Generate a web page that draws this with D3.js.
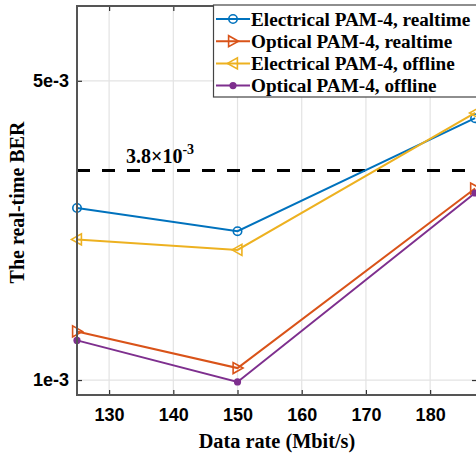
<!DOCTYPE html>
<html lang="en">
<head>
    <meta charset="utf-8">
    <title>Real-time BER vs data rate</title>
    <script src="https://d3js.org/d3.v7.min.js"></script>
    <style>
        body { margin: 0; background: #fff; }
        .tick-label { font-family: "Liberation Sans", Arial, sans-serif; font-weight: bold; font-size: 18px; fill: #000; }
        .serif { font-family: "Liberation Serif", "Times New Roman", serif; font-weight: bold; fill: #000; }
    </style>
</head>
<body>
    <svg id="chart" width="476" height="458"></svg>
    <script>
        // data
        const rates = [125, 150, 187];
        const elecRealtime = [3.30e-3, 2.99e-3, 4.50e-3];
        const optRealtime = [1.65e-3, 1.16e-3, 3.56e-3];
        const elecOffline = [2.88e-3, 2.74e-3, 4.57e-3];
        const optOffline = [1.53e-3, 0.975e-3, 3.50e-3];
        const seriesNames = ['Electrical PAM-4, realtime', 'Optical PAM-4, realtime',
            'Electrical PAM-4, offline', 'Optical PAM-4, offline'];
        const xTicks = [130, 140, 150, 160, 170, 180];
        const yTicks = [1e-3, 5e-3];
        const yTickLabels = ['1e-3', '5e-3'];
        const threshold = 3.8e-3;

        const colors = ['#0072BD', '#D95319', '#EDB120', '#7E2F8E'];
        const markers = ['circle', 'tri-right', 'tri-left', 'dot'];
        const allSeries = [elecRealtime, optRealtime, elecOffline, optOffline];

        const pLeft = 77, pTop = 6, pRight = 477, pBottom = 395;
        const svg = d3.select('#chart');

        let scaleX = d3.scaleLinear().domain([125, 187.3]).range([pLeft, pRight]);
        let scaleY = d3.scaleLinear().domain([0.8e-3, 6e-3]).range([pBottom, pTop]);

        // grid
        svg.append('g').selectAll('line').data(xTicks).enter().append('line')
            .attr('x1', d => scaleX(d)).attr('x2', d => scaleX(d))
            .attr('y1', pTop).attr('y2', pBottom)
            .attr('stroke', '#e3e3e3').attr('stroke-width', 1.2);
        svg.append('g').selectAll('line').data(yTicks).enter().append('line')
            .attr('x1', pLeft).attr('x2', pRight)
            .attr('y1', d => scaleY(d)).attr('y2', d => scaleY(d))
            .attr('stroke', '#e3e3e3').attr('stroke-width', 1.2);

        // axes (ticks inward, MATLAB style)
        let xAxis = svg.append('g').attr('transform', `translate(0,${pBottom})`)
            .call(d3.axisBottom(scaleX).tickValues(xTicks).tickSize(-5).tickPadding(13).tickFormat(d3.format('d')));
        let xAxisTop = svg.append('g').attr('transform', `translate(0,${pTop})`)
            .call(d3.axisTop(scaleX).tickValues(xTicks).tickSize(-5).tickFormat(''));
        let yAxis = svg.append('g').attr('transform', `translate(${pLeft},0)`)
            .call(d3.axisLeft(scaleY).tickValues(yTicks).tickSize(-5).tickPadding(8)
                .tickFormat((d, i) => yTickLabels[i]));
        let yAxisRight = svg.append('g').attr('transform', `translate(${pRight},0)`)
            .call(d3.axisRight(scaleY).tickValues(yTicks).tickSize(-5).tickFormat(''));
        for (let ax of [xAxis, xAxisTop, yAxis, yAxisRight]) {
            ax.select('.domain').remove();
            ax.selectAll('.tick line').attr('stroke', '#333').attr('stroke-width', 1.2);
            ax.selectAll('.tick text').attr('class', 'tick-label');
        }

        // threshold dashed line
        svg.append('line')
            .attr('x1', pLeft).attr('x2', pRight)
            .attr('y1', scaleY(threshold)).attr('y2', scaleY(threshold))
            .attr('stroke', '#000').attr('stroke-width', 3)
            .attr('stroke-dasharray', '13,12');

        let ann = svg.append('text').attr('class', 'serif')
            .attr('x', 126).attr('y', scaleY(threshold) - 8).attr('font-size', 20);
        ann.append('tspan').text('3.8\u00d710');
        ann.append('tspan').attr('dy', -9).attr('font-size', 14).text('-3');

        function drawMarker(g, type, color, x, y) {
            if (type === 'circle') {
                g.append('circle').attr('cx', x).attr('cy', y).attr('r', 4.2)
                    .attr('fill', 'none').attr('stroke', color).attr('stroke-width', 1.6);
            } else if (type === 'dot') {
                g.append('circle').attr('cx', x).attr('cy', y).attr('r', 3.6).attr('fill', color);
            } else {
                let s = 5.5;
                let pts = type === 'tri-right'
                    ? [[x + s, y], [x - s * 0.8, y - s], [x - s * 0.8, y + s]]
                    : [[x - s, y], [x + s * 0.8, y - s], [x + s * 0.8, y + s]];
                g.append('polygon').attr('points', pts.map(p => p.join(',')).join(' '))
                    .attr('fill', 'none').attr('stroke', color).attr('stroke-width', 1.6);
            }
        }

        let line = d3.line()
            .x((d, i) => scaleX(rates[i]))
            .y(d => scaleY(d));

        let plot = svg.append('g');
        allSeries.forEach((vals, k) => {
            plot.append('path').datum(vals)
                .attr('fill', 'none').attr('stroke', colors[k]).attr('stroke-width', 2)
                .attr('d', line);
            vals.forEach((v, i) => drawMarker(plot, markers[k], colors[k], scaleX(rates[i]), scaleY(v)));
        });

        // axes box
        svg.append('rect').attr('x', pLeft).attr('y', pTop)
            .attr('width', pRight - pLeft).attr('height', pBottom - pTop)
            .attr('fill', 'none').attr('stroke', '#555').attr('stroke-width', 2);

        // legend
        let lg = svg.append('g');
        lg.append('rect').attr('x', 213.5).attr('y', 5).attr('width', 280).attr('height', 92)
            .attr('fill', '#fff').attr('stroke', '#444').attr('stroke-width', 1.2);
        seriesNames.forEach((name, k) => {
            let y = 19 + k * 22.2;
            lg.append('line').attr('x1', 216).attr('x2', 250).attr('y1', y).attr('y2', y)
                .attr('stroke', colors[k]).attr('stroke-width', 2);
            drawMarker(lg, markers[k], colors[k], 233, y);
            lg.append('text').attr('class', 'serif').attr('x', 251).attr('y', y + 6.5)
                .attr('font-size', 19.2).text(name);
        });

        // axis labels
        svg.append('text').attr('class', 'serif')
            .attr('x', (pLeft + pRight) / 2).attr('y', 448)
            .attr('text-anchor', 'middle').attr('font-size', 20.3)
            .text('Data rate (Mbit/s)');
        svg.append('text').attr('class', 'serif')
            .attr('transform', `translate(24,${(pTop + pBottom) / 2 + 2}) rotate(-90)`)
            .attr('text-anchor', 'middle').attr('font-size', 20)
            .text('The real-time BER');
    </script>
</body>
</html>
